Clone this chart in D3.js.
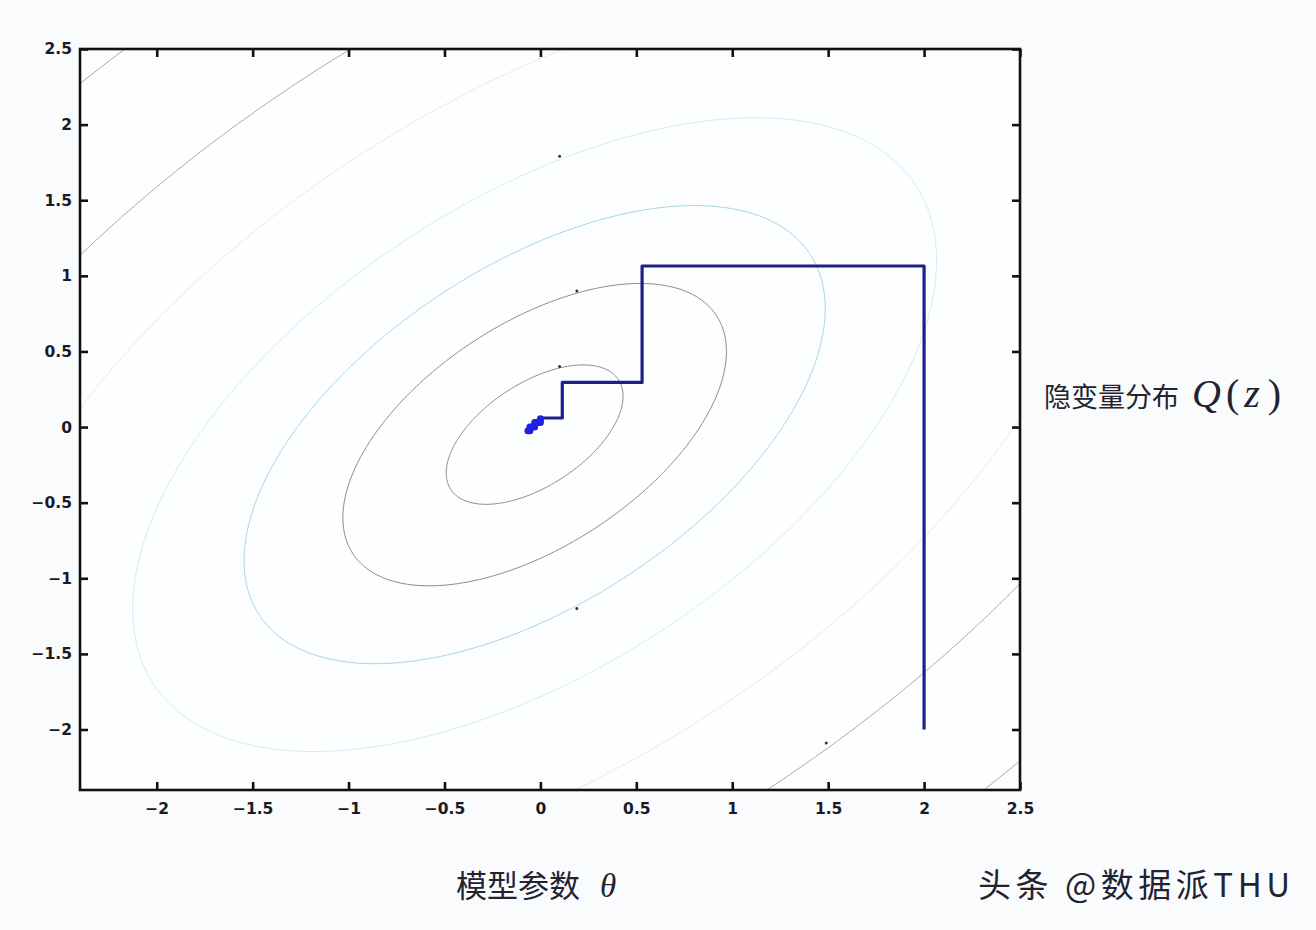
<!DOCTYPE html>
<html>
<head>
<meta charset="utf-8">
<script src="https://cdn.jsdelivr.net/npm/d3@7"></script>
<style>
  body { margin: 0; background: #fafbfd; }
  .axis text { font-family: "DejaVu Sans", sans-serif; font-size: 15.5px; font-weight: bold; fill: #1a1a24; }
  .axis path { display: none; }
  .axis line { stroke: #111; stroke-width: 2.6; }
  .lbl { font-family: "Noto Sans CJK SC", sans-serif; fill: #222230; }
  .math { font-family: "Liberation Serif", "DejaVu Serif", serif; }
</style>
</head>
<body>
<div id="chart"></div>
<script>
// axis ticks
const xTicks = [-2, -1.5, -1, -0.5, 0, 0.5, 1, 1.5, 2, 2.5];
const yTicks = [-2, -1.5, -1, -0.5, 0, 0.5, 1, 1.5, 2, 2.5];

// contour levels (radius of each elliptic level set) and colours, inner to outer
const contourLevels = [0.385, 0.835, 1.265, 1.75, 2.47, 3.18, 4.13];
const contourColors = ['#8e8e92', '#8a8a90', '#a6d8d8', '#d2ecee', '#e6efd6', '#aaa6a8', '#a4a4a4'];
const contourCenter = [-0.03, -0.05];
const coupling = 0.55;

// coordinate ascent path
const pathX = [2, 2, 0.53, 0.53, 0.114, 0.114, 0.0, 0.0];
const pathY = [-2, 1.065, 1.065, 0.295, 0.295, 0.06, 0.06, 0.045];
// converging tail
const tailX = [0.0, 0.0, -0.03, -0.03, -0.055, -0.055, -0.065];
const tailY = [0.055, 0.03, 0.03, 0.0, 0.0, -0.025, -0.025];

// small marks on contour lines
const markX = [0.19, 0.1, 0.19, 0.1, 1.49];
const markY = [0.9, 0.4, -1.2, 1.79, -2.09];

const margin = {top: 49, left: 80},
    width = 940,
    height = 741;

const x = d3.scaleLinear().domain([-2.4, 2.5]).range([0, width]);
const y = d3.scaleLinear().domain([-2.4, 2.5]).range([height, 0]);

const svg = d3.select('#chart')
    .append('svg')
    .attr('width', 1316)
    .attr('height', 930);

const g = svg.append('g')
    .attr('transform', `translate(${margin.left},${margin.top})`);

g.append('rect')
    .attr('width', width)
    .attr('height', height)
    .attr('fill', '#fdfeff');

g.append('clipPath').attr('id', 'clip')
    .append('rect').attr('width', width).attr('height', height);

// contour grid
const nx = 300, ny = 300;
const values = new Array(nx * ny);
for (let j = 0; j < ny; j++) {
    for (let i = 0; i < nx; i++) {
        const dx = x.invert((i + 0.5) / nx * width) - contourCenter[0];
        const dy = y.invert((j + 0.5) / ny * height) - contourCenter[1];
        values[j * nx + i] = -(dx * dx - 2 * coupling * dx * dy + dy * dy);
    }
}
const contours = d3.contours()
    .size([nx, ny])
    .thresholds(contourLevels.map(r => -r * r))(values);

const toPx = d3.geoTransform({
    point: function(px, py) {
        this.stream.point(px / nx * width, py / ny * height);
    }
});
const geo = d3.geoPath(toPx);

g.append('g')
    .attr('clip-path', 'url(#clip)')
    .selectAll('path')
    .data(contours)
    .enter().append('path')
    .attr('d', geo)
    .attr('fill', 'none')
    .attr('stroke', (d, i) => contourColors[contourLevels.length - 1 - i])
    .attr('stroke-width', 1);

g.append('g').selectAll('circle')
    .data(markX)
    .enter().append('circle')
    .attr('cx', d => x(d))
    .attr('cy', (d, i) => y(markY[i]))
    .attr('r', 1.5)
    .attr('fill', '#333');

const line = d3.line()
    .x(d => x(d[0]))
    .y(d => y(d[1]));

g.append('path')
    .datum(pathX.map((v, i) => [v, pathY[i]]))
    .attr('d', line)
    .attr('fill', 'none')
    .attr('stroke', '#1c1f8c')
    .attr('stroke-width', 3.2)
    .attr('stroke-linejoin', 'round');

g.append('path')
    .datum(tailX.map((v, i) => [v, tailY[i]]))
    .attr('d', line)
    .attr('fill', 'none')
    .attr('stroke', '#1c22e0')
    .attr('stroke-width', 7)
    .attr('stroke-linejoin', 'round')
    .attr('stroke-linecap', 'round');

// axes, ticks pointing inward
g.append('g').attr('class', 'axis')
    .call(d3.axisLeft(y).tickValues(yTicks).tickSizeInner(-8).tickPadding(8).tickFormat(d3.format('')));
g.append('g').attr('class', 'axis')
    .attr('transform', `translate(0,${height})`)
    .call(d3.axisBottom(x).tickValues(xTicks).tickSizeInner(-8).tickPadding(13).tickFormat(d3.format('')));
g.append('g').attr('class', 'axis')
    .attr('transform', `translate(${width},0)`)
    .call(d3.axisRight(y).tickValues(yTicks).tickSizeInner(-8).tickFormat(''));
g.append('g').attr('class', 'axis')
    .call(d3.axisTop(x).tickValues(xTicks).tickSizeInner(-8).tickFormat(''));

g.append('rect')
    .attr('width', width)
    .attr('height', height)
    .attr('fill', 'none')
    .attr('stroke', '#111')
    .attr('stroke-width', 2.6);

const t1 = svg.append('text')
    .attr('class', 'lbl')
    .attr('font-size', 27)
    .attr('x', 1044)
    .attr('y', 407);
t1.append('tspan').text('隐变量分布');
t1.append('tspan').attr('class', 'math').attr('dx', 13).attr('font-style', 'italic').attr('font-size', 40).text('Q');
t1.append('tspan').attr('class', 'math').attr('dx', 5).attr('font-size', 40).text('(');
t1.append('tspan').attr('class', 'math').attr('dx', 5).attr('font-style', 'italic').attr('font-size', 40).text('z');
t1.append('tspan').attr('class', 'math').attr('dx', 8).attr('font-size', 40).text(')');

const t2 = svg.append('text')
    .attr('class', 'lbl')
    .attr('font-size', 31)
    .attr('x', 456)
    .attr('y', 897);
t2.append('tspan').text('模型参数');
t2.append('tspan').attr('class', 'math').attr('dx', 20).attr('font-style', 'italic').attr('font-size', 33).text('θ');

svg.append('text')
    .attr('class', 'lbl')
    .attr('font-size', 33)
    .attr('x', 978)
    .attr('y', 897)
    .attr('textLength', 312)
    .attr('lengthAdjust', 'spacing')
    .attr('fill', '#2a2a2a')
    .text('头条 @数据派THU');
</script>
</body>
</html>
